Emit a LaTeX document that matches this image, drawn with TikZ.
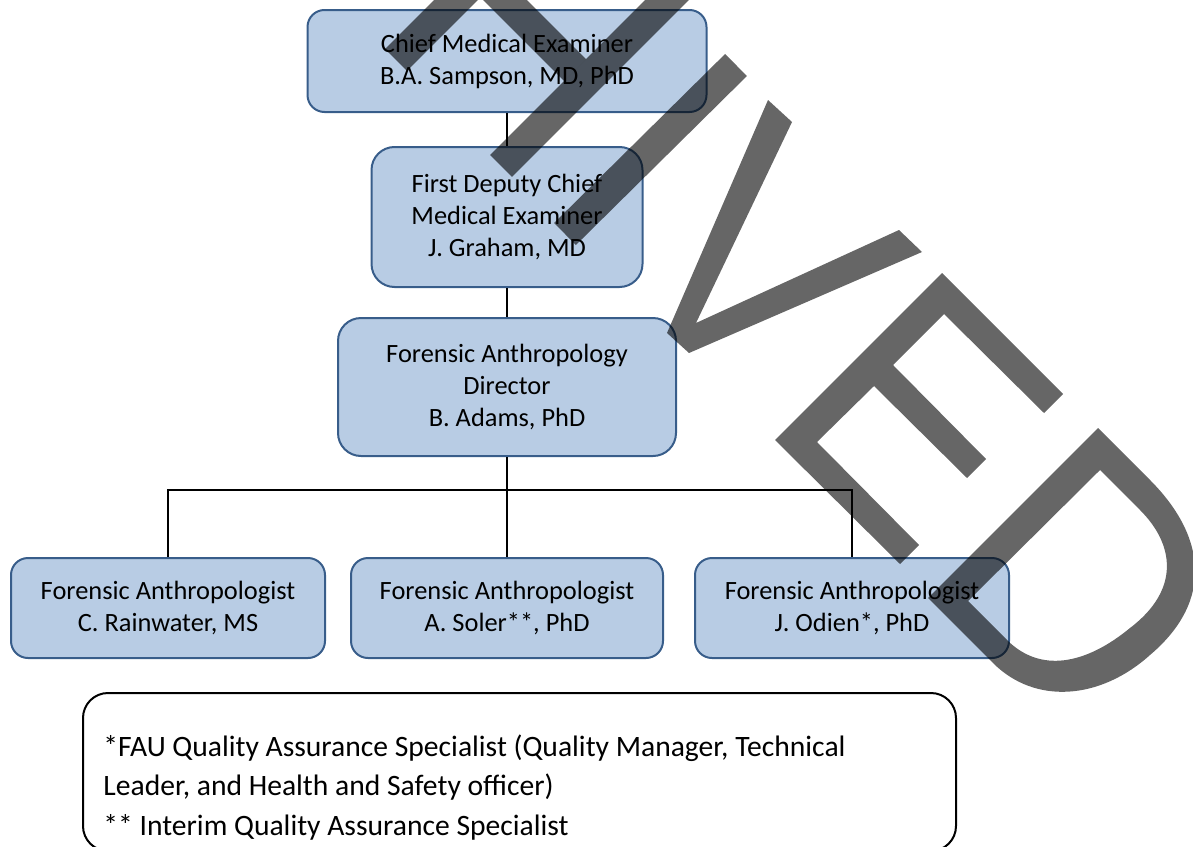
\documentclass[tikz,border=0pt]{standalone}
\usepackage{fontspec}
\setmainfont{Carlito}
\usetikzlibrary{positioning}
\definecolor{boxfill}{RGB}{184,204,228}
\definecolor{boxline}{RGB}{56,93,138}

\begin{document}
\begin{tikzpicture}[x=0.5pt,y=-0.5pt,
  orgbox/.style={draw=boxline,fill=boxfill,line width=1pt,align=center,inner sep=0pt,
    font=\fontsize{13.2}{16}\selectfont},
  link/.style={line width=0.75pt},
  stamp/.style={draw=black,draw opacity=0.6,line width=15.5pt},
  stampfill/.style={fill=black,fill opacity=0.6}]
\useasboundingbox (0,0) rectangle (1193,846);
\node[orgbox,minimum width=199.5pt,minimum height=51pt,rounded corners=8.5pt] (chief) at (507,61) {Chief Medical Examiner\\B.A. Sampson, MD, PhD};
\node[orgbox,minimum width=135.5pt,minimum height=70pt,rounded corners=11.5pt] (deputy) at (507,217) {First Deputy Chief\\Medical Examiner\\J. Graham, MD};
\node[orgbox,minimum width=169pt,minimum height=69pt,rounded corners=11.5pt] (director) at (507,387) {Forensic Anthropology\\Director\\B. Adams, PhD};
\node[orgbox,minimum width=157pt,minimum height=50pt,rounded corners=8.5pt] (rainwater) at (168,608) {Forensic Anthropologist\\C. Rainwater, MS};
\node[orgbox,minimum width=156pt,minimum height=50pt,rounded corners=8.5pt] (soler) at (507,608) {Forensic Anthropologist\\A. Soler**, PhD};
\node[orgbox,minimum width=157pt,minimum height=50pt,rounded corners=8.5pt] (odien) at (852,608) {Forensic Anthropologist\\J. Odien*, PhD};
\coordinate (fork) at (507,490);
\draw[link] (chief) -- (deputy);
\draw[link] (deputy) -- (director);
\draw[link] (director) -- (fork);
\draw[link] (fork) -| (rainwater);
\draw[link] (fork) -- (soler);
\draw[link] (fork) -| (odien);
% legend
\node[draw=black,line width=1pt,rounded corners=12.5pt,minimum width=436.5pt,minimum height=79pt,inner sep=0pt]
  (notes) at (519.5,772) {};
\node[anchor=base west,align=left,inner sep=0pt,font=\fontsize{14.8}{19.75}\selectfont] (notetext) at (103,835)
  {*FAU Quality Assurance Specialist (Quality Manager, Technical\\Leader, and Health and Safety officer)\\{}** Interim Quality Assurance Specialist};
% archived stamp
\begin{scope}
\clip (0,0) rectangle (1193,846);
\draw[stamp] (396,60) -- (470,-14);
\draw[stamp] (465,-40) -- (575,70);
\draw[stamp] (501,166) -- (680,-13);
\draw[stamp] (736,65) -- (565,234);
\fill[stampfill] (768,100) -- (792,122) -- (696,323) -- (899,230) -- (922,252) -- (689,353) -- (667,333) -- cycle;
\fill[stampfill] (775,440) -- (942,273) -- (1063,394) -- (1044,413) -- (944,314) -- (893,365) -- (986,459)
  -- (967,478) -- (874,386) -- (817,442) -- (919,545) -- (900,564) -- cycle;
\fill[stampfill,even odd rule] (928,598) -- (1098,428) -- (1150,480) .. controls (1205,535) and (1215,600) .. (1150,655)
  .. controls (1100,700) and (1035,705) .. (993,663) -- cycle
  (968,601) -- (1100,470) -- (1140,510) .. controls (1175,545) and (1180,590) .. (1130,628)
  .. controls (1085,665) and (1040,673) .. (1007,640) -- cycle;
\end{scope}
\end{tikzpicture}
\end{document}
